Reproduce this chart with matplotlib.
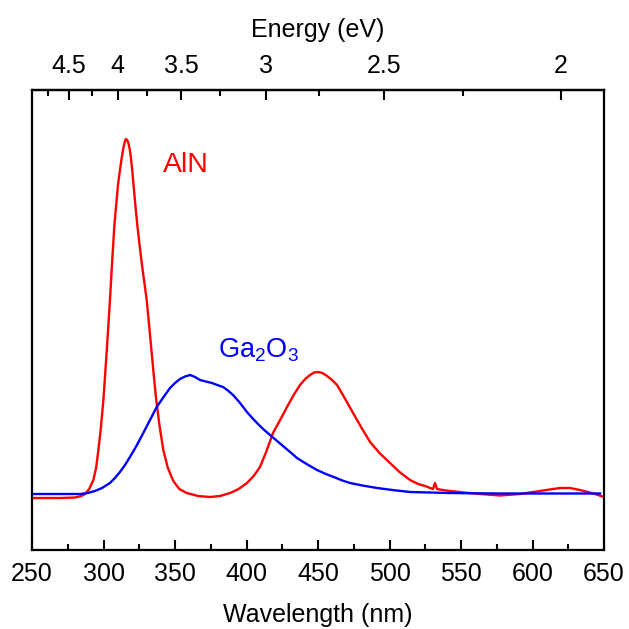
import numpy as np
import matplotlib
matplotlib.use("Agg")
import matplotlib.pyplot as plt

plt.rcParams['font.family'] = ['Liberation Sans', 'DejaVu Sans']
plt.rcParams['mathtext.fontset'] = 'custom'
plt.rcParams['mathtext.rm'] = 'Liberation Sans'
plt.rcParams['mathtext.it'] = 'Liberation Sans'

# AlN emission (wavelength nm, intensity a.u.)
aln_wl = [250, 269.6, 280, 284.5, 287.1, 290, 292.9, 294.8, 296.4, 298.2,
          299.9, 302.2, 304.5, 306.1, 307.6, 309.0, 310.1, 311.5, 312.7, 313.9,
          315.0, 315.7, 316.5, 317.4, 318.3, 319.2, 320.2, 321.3, 322.4, 323.6,
          325.2, 326.9, 328.6, 330.2, 331.6, 333.3, 335.0, 336.7, 339.2, 341.8,
          345.0, 348.8, 353.0, 358.2, 366.1, 374.5, 381.5, 388.5, 394.5, 400.3,
          405.0, 409.4, 414.0, 418.5, 423.5, 428.3, 433.0, 437.4, 441.0, 444.4,
          447.3, 450.0, 453.0, 456.3, 459.8, 463.3, 469.0, 474.5, 480.5, 486.4,
          493.0, 500.3, 507.0, 514.3, 520.0, 524.8, 528.5, 530.4, 531.8, 533.2,
          537.0, 542.3, 552.0, 563.3, 577.3, 591.2, 605.2, 612.0, 619.2, 626.2,
          633.2, 638.5, 643.7, 650]
aln_int = [52, 52, 52.5, 54, 56, 61, 70, 82, 100, 123,
           150, 198, 250, 290, 325, 347, 365, 380, 392, 402,
           409, 411, 410, 407, 401, 392, 378, 360, 343, 325,
           305, 285, 267, 250, 229, 203, 177, 152, 124, 100,
           82, 69, 61, 57, 54, 53, 54, 57, 61, 67,
           74, 83, 99, 117, 130, 143, 155, 165, 171, 175,
           177.5, 178, 177, 174, 170, 165, 151, 137, 122, 108,
           97, 87, 78, 70, 66, 64, 62, 61, 67, 61,
           60, 59, 57.5, 56, 54.5, 56, 59, 60.5, 62, 62,
           60, 58, 56, 53]

# Ga2O3 emission
gao_wl = [250, 283.6, 289, 294, 299, 304.5, 308, 311.5, 315, 318.5,
          323, 327.8, 332.5, 337.2, 342, 346.5, 350, 353.5, 357, 360.5,
          364, 367.5, 371.5, 375.9, 379.5, 383.6, 387, 390.6, 395.5, 400.3,
          404, 408, 412, 416.4, 421, 425.5, 430.5, 435.3, 442, 449.3,
          455.5, 461.9, 467, 472.4, 481, 491.3, 502, 514.3, 528, 542.3,
          560, 577.3, 595, 612.2, 630, 647.2]
gao_int = [56, 56, 57, 59, 62, 67, 72, 78, 85, 93,
           104, 117, 130, 143, 153, 162, 167, 171, 173.5, 175,
           173, 170, 168.5, 167, 165, 163, 159.5, 155, 147, 138,
           132, 126, 120.5, 115, 109.5, 104, 98, 92, 86, 80,
           76, 72.5, 69.5, 67, 64.5, 62, 60, 58, 57.5, 57,
           56.7, 56.5, 56.5, 56.5, 56.5, 56.5]

wl_ticks = [250, 300, 350, 400, 450, 500, 550, 600, 650]
ev_ticks = [4.5, 4, 3.5, 3, 2.5, 2]
ev_minor = [4.75, 4.25, 3.75, 3.25, 2.75, 2.25]

fig = plt.figure(figsize=(6.29, 6.29), dpi=100)
ax = fig.add_axes([0.0509, 0.1256, 0.9094, 0.7313])

ax.plot(aln_wl, aln_int, color='#ff0000', lw=1.7)
ax.plot(gao_wl, gao_int, color='#0000ff', lw=1.7)

ax.set_xlim(250, 650)
ax.set_ylim(0, 460)
ax.set_xticks(wl_ticks)
ax.set_xticks(np.arange(275, 650, 50), minor=True)
ax.set_yticks([])
ax.tick_params(axis='x', which='major', direction='in', length=7, width=1.5,
               labelsize=18, pad=9)
ax.tick_params(axis='x', which='minor', direction='in', length=4, width=1.5)
for s in ax.spines.values():
    s.set_linewidth(1.6)
ax.set_xlabel('Wavelength (nm)', fontsize=18, labelpad=12)

top = ax.secondary_xaxis('top', functions=(lambda x: 1240.0 / x, lambda e: 1240.0 / e))
top.set_xticks(ev_ticks)
top.set_xticklabels(['4.5', '4', '3.5', '3', '2.5', '2'])
top.set_xticks(ev_minor, minor=True)
top.tick_params(axis='x', which='major', direction='in', length=7, width=1.5,
                labelsize=18, pad=9)
top.tick_params(axis='x', which='minor', direction='in', length=4, width=1.5)
top.spines['top'].set_linewidth(1.6)
top.set_xlabel('Energy (eV)', fontsize=18, labelpad=12)

ax.text(341.6, 378, 'AlN', color='#ff0000', fontsize=20.5, va='baseline')
ax.text(380, 193, r'Ga$_\mathregular{2}$O$_\mathregular{3}$', color='#0000ff',
        fontsize=19.5, va='baseline')

fig.savefig('out.png', dpi=100)
